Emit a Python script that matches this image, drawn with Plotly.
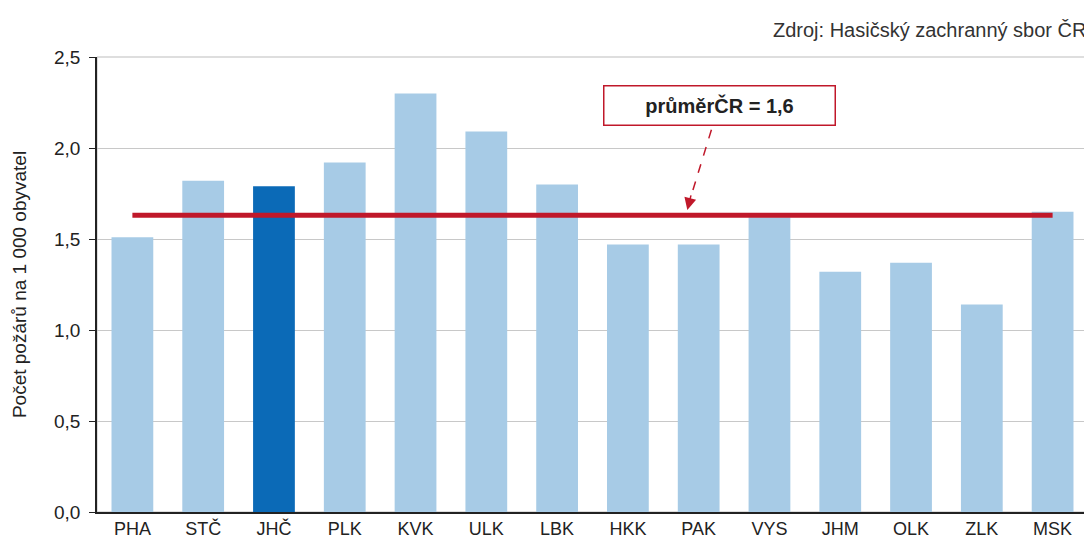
import plotly.graph_objects as go

regions = ["PHA", "STČ", "JHČ", "PLK", "KVK", "ULK", "LBK", "HKK", "PAK", "VYS", "JHM", "OLK", "ZLK", "MSK"]
values = [1.51, 1.82, 1.79, 1.92, 2.30, 2.09, 1.80, 1.47, 1.47, 1.62, 1.32, 1.37, 1.14, 1.65]
highlight = "JHČ"
average = 1.63
avg_label = "průměrČR = 1,6"
y_ticks = [0, 0.5, 1.0, 1.5, 2.0, 2.5]

light = "#a7cbe6"
dark = "#0b6ab7"
red = "#c0182a"

colors = [dark if r == highlight else light for r in regions]

fig = go.Figure()
fig.add_trace(go.Bar(x=regions, y=values, marker=dict(color=colors, line=dict(width=0)),
                     showlegend=False, hoverinfo="x+y"))
fig.add_trace(go.Scatter(x=regions, y=[average] * len(regions), mode="lines",
                         line=dict(color=red, width=5), showlegend=False))

# plot frame (gray) behind axes
fig.add_shape(type="rect", xref="paper", yref="paper", x0=0, x1=1, y0=0, y1=1,
              line=dict(color="#bdbdbd", width=1), layer="below")

# dashed arrow shaft
fig.add_shape(type="line", xref="x", yref="y", x0=8.18, y0=2.10, x1=7.88, y1=1.72,
              line=dict(color=red, width=1.5, dash="dash"))
# arrow head
fig.add_annotation(x=7.84, y=1.66, xref="x", yref="y", text="", showarrow=True,
                   ax=4, ay=-16, arrowhead=2, arrowsize=1.6, arrowwidth=1.5, arrowcolor=red)
# label box
fig.add_annotation(x=8.30, y=2.236, xref="x", yref="y", text="<b>" + avg_label + "</b>",
                   showarrow=False, font=dict(family="Liberation Sans, Arial", size=20, color="#222"),
                   bgcolor="white", bordercolor=red, borderwidth=1.5, width=228, height=36, borderpad=1)
# source
fig.add_annotation(x=1, y=1, xref="paper", yref="paper", yshift=27, xanchor="right", yanchor="middle",
                   text="Zdroj: Hasičský zachranný sbor ČR", showarrow=False,
                   font=dict(family="Liberation Sans, Arial", size=20, color="#333"))

fig.update_layout(
    width=1084, height=535,
    margin=dict(l=89, r=4, t=49, b=31),
    plot_bgcolor="white", paper_bgcolor="white",
    bargap=0.41,
    separators=", ",
    font=dict(family="Liberation Sans, Arial", color="#222"),
    xaxis=dict(showgrid=False, showline=True, linecolor="#222", linewidth=1.5,
               ticks="", tickfont=dict(size=18), range=[-0.5, 13.5]),
    yaxis=dict(range=[0, 2.5], tickvals=y_ticks, tickformat=".1f", showgrid=True,
               gridcolor="#c8c8c8", gridwidth=1, showline=True, linecolor="#222", linewidth=1.5,
               ticks="outside", ticklen=6, tickcolor="#222", tickfont=dict(size=19),
               ticklabelstandoff=5,
               title=dict(text="Počet požárů na 1 000 obyvatel", font=dict(size=19), standoff=22),
               zeroline=False),
)

fig.write_html("out.html")
